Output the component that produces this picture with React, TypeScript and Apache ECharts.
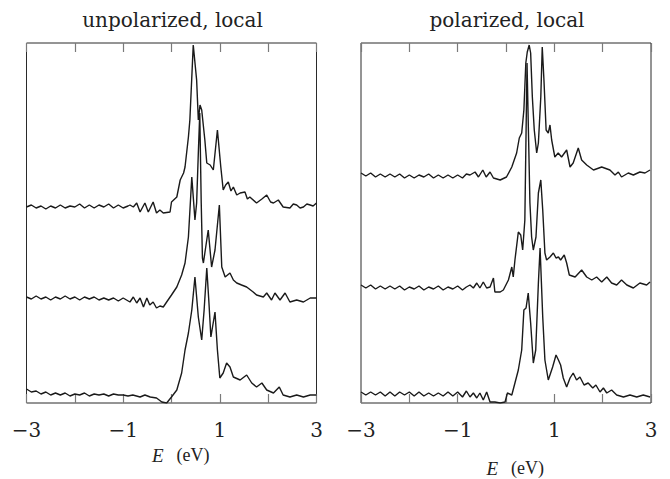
import React, { useEffect, useRef } from 'react';
import * as echarts from 'echarts';

const panelTitles = ['unpolarized, local', 'polarized, local'];
const axisLabelText = 'E';
const axisUnitText = '(eV)';
const tickLabelMap: Record<string, string> = { '-3': '−3', '-1': '−1', '1': '1', '3': '3' };

// [E (eV), intensity (arbitrary, offset curves)]
const unpolTop: number[][] = [
  [-3.0,196],[-2.9,198],[-2.8,195],[-2.7,197],[-2.6,194],[-2.5,197],[-2.4,195],[-2.3,198],[-2.2,195],[-2.1,197],[-2.0,196],[-1.9,199],[-1.8,195],[-1.7,198],[-1.6,195],[-1.5,198],[-1.4,196],[-1.3,199],[-1.2,195],[-1.1,198],[-1.0,195],[-0.9,197],[-0.86,198],[-0.79,196],[-0.72,200],[-0.65,191],[-0.55,200],[-0.48,191],[-0.38,201],[-0.31,190],[-0.24,193],[-0.17,190],[-0.03,191],[0.0,201],[0.11,206],[0.18,223],[0.25,230],[0.28,236],[0.35,266],[0.38,283],[0.45,358],[0.52,323],[0.555,283],[0.59,298],[0.625,293],[0.69,263],[0.73,240],[0.80,238],[0.865,233],[0.95,273],[1.02,236],[1.07,213],[1.12,218],[1.175,221],[1.23,212],[1.28,216],[1.35,208],[1.42,210],[1.52,211],[1.57,204],[1.62,206],[1.76,200],[1.87,204],[1.97,208],[2.05,201],[2.11,200],[2.21,203],[2.31,196],[2.45,195],[2.52,199],[2.59,198],[2.66,195],[2.73,196],[2.8,199],[2.87,198],[2.93,197],[3.0,200]
];
const unpolMid: number[][] = [
  [-3.0,106],[-2.9,104],[-2.8,107],[-2.7,104],[-2.6,106],[-2.5,103],[-2.4,106],[-2.3,104],[-2.2,107],[-2.1,104],[-2.0,106],[-1.9,103],[-1.8,106],[-1.7,104],[-1.6,106],[-1.5,103],[-1.4,105],[-1.3,103],[-1.2,105],[-1.1,102],[-1.0,105],[-0.93,103],[-0.86,101],[-0.79,106],[-0.72,100],[-0.65,105],[-0.58,96],[-0.51,105],[-0.45,98],[-0.38,101],[-0.31,95],[-0.24,97],[-0.17,96],[-0.10,101],[0.0,108],[0.11,116],[0.21,128],[0.28,140],[0.35,166],[0.42,226],[0.485,183],[0.52,200],[0.555,250],[0.585,290],[0.615,200],[0.64,145],[0.66,140],[0.69,150],[0.76,173],[0.83,136],[0.90,153],[0.99,198],[1.04,136],[1.11,126],[1.21,130],[1.28,123],[1.35,120],[1.45,118],[1.555,116],[1.69,111],[1.76,108],[1.90,106],[1.97,110],[2.07,103],[2.14,110],[2.245,103],[2.35,110],[2.45,101],[2.59,103],[2.73,101],[2.87,105],[3.0,105]
];
const unpolBot: number[][] = [
  [-3.0,14],[-2.9,11],[-2.8,12],[-2.7,9],[-2.6,11],[-2.5,8],[-2.4,10],[-2.3,8],[-2.2,10],[-2.1,7],[-2.0,9],[-1.9,8],[-1.8,10],[-1.7,7],[-1.6,9],[-1.5,8],[-1.4,9],[-1.3,7],[-1.2,9],[-1.1,8],[-1.0,8],[-0.9,7],[-0.8,8],[-0.65,6],[-0.55,8],[-0.44,6],[-0.31,5],[-0.20,1],[-0.10,0],[0.0,6],[0.11,13],[0.21,30],[0.28,53],[0.35,70],[0.42,93],[0.485,126],[0.555,86],[0.625,63],[0.675,93],[0.73,135],[0.775,100],[0.815,66],[0.90,91],[0.95,53],[1.0,25],[1.07,30],[1.14,40],[1.21,36],[1.28,26],[1.42,23],[1.555,28],[1.66,20],[1.76,16],[1.87,20],[1.97,13],[2.11,10],[2.23,16],[2.31,8],[2.45,6],[2.59,8],[2.73,6],[2.87,8],[3.0,8]
];
const polTop: number[][] = [
  [-3.0,230],[-2.9,227],[-2.8,230],[-2.7,226],[-2.6,229],[-2.5,226],[-2.4,229],[-2.3,226],[-2.2,229],[-2.1,225],[-2.0,228],[-1.9,225],[-1.8,228],[-1.7,226],[-1.6,229],[-1.5,225],[-1.4,228],[-1.3,225],[-1.2,228],[-1.1,225],[-1.0,228],[-0.9,225],[-0.82,229],[-0.745,228],[-0.64,231],[-0.57,226],[-0.48,233],[-0.41,226],[-0.33,231],[-0.26,225],[-0.12,223],[0.01,226],[0.12,236],[0.22,250],[0.275,265],[0.325,270],[0.37,293],[0.41,340],[0.44,351],[0.48,358],[0.51,350],[0.545,306],[0.585,273],[0.635,250],[0.67,260],[0.72,306],[0.75,356],[0.785,323],[0.83,273],[0.875,270],[0.91,278],[0.945,263],[1.01,246],[1.08,250],[1.15,246],[1.255,253],[1.325,236],[1.39,240],[1.495,255],[1.565,243],[1.67,238],[1.81,233],[1.98,236],[2.15,233],[2.255,228],[2.325,231],[2.39,226],[2.53,230],[2.635,228],[2.77,231],[2.875,230],[2.98,233]
];
const polMid: number[][] = [
  [-3.0,118],[-2.9,115],[-2.8,118],[-2.7,114],[-2.6,117],[-2.5,114],[-2.4,117],[-2.3,114],[-2.2,117],[-2.1,113],[-2.0,116],[-1.9,114],[-1.8,117],[-1.7,113],[-1.6,116],[-1.5,114],[-1.4,117],[-1.3,113],[-1.2,116],[-1.1,114],[-1.0,117],[-0.9,113],[-0.82,116],[-0.745,118],[-0.675,115],[-0.605,120],[-0.54,115],[-0.47,121],[-0.40,115],[-0.33,116],[-0.26,125],[-0.23,111],[-0.12,111],[-0.055,113],[0.05,123],[0.12,136],[0.15,126],[0.185,143],[0.255,171],[0.305,168],[0.345,153],[0.39,183],[0.435,340],[0.495,200],[0.53,166],[0.565,153],[0.62,166],[0.67,210],[0.72,223],[0.76,193],[0.805,150],[0.84,143],[0.91,146],[0.98,150],[1.035,145],[1.085,146],[1.13,143],[1.205,148],[1.255,140],[1.31,128],[1.43,126],[1.565,133],[1.67,126],[1.775,123],[1.875,126],[1.98,121],[2.085,126],[2.185,120],[2.29,118],[2.39,123],[2.5,118],[2.635,115],[2.77,120],[2.91,118],[2.98,121]
];
const polBot: number[][] = [
  [-3.0,11],[-2.9,8],[-2.8,11],[-2.7,8],[-2.6,11],[-2.5,7],[-2.4,11],[-2.3,7],[-2.2,11],[-2.1,8],[-2.0,11],[-1.9,7],[-1.8,11],[-1.7,7],[-1.6,10],[-1.5,7],[-1.4,10],[-1.3,7],[-1.2,11],[-1.1,7],[-1.0,11],[-0.9,6],[-0.82,12],[-0.745,6],[-0.675,10],[-0.605,5],[-0.54,10],[-0.47,3],[-0.40,11],[-0.33,1],[-0.23,1],[-0.12,0],[-0.02,1],[0.03,10],[0.12,8],[0.185,20],[0.255,33],[0.325,53],[0.37,93],[0.415,95],[0.46,110],[0.51,80],[0.565,40],[0.615,53],[0.67,120],[0.705,155],[0.76,86],[0.805,43],[0.875,23],[0.965,36],[1.035,48],[1.085,43],[1.13,38],[1.185,25],[1.255,16],[1.325,25],[1.39,30],[1.46,23],[1.53,26],[1.615,18],[1.70,20],[1.795,15],[1.86,18],[1.945,11],[2.015,15],[2.085,10],[2.185,13],[2.29,8],[2.43,6],[2.565,8],[2.705,6],[2.84,8],[2.98,6]
];

const panelCurves = [
  [unpolTop, unpolMid, unpolBot],
  [polTop, polMid, polBot],
];

const X_MIN = -3;
const X_MAX = 3;
const Y_MIN = 0;
const Y_MAX = 360;

export default function App() {
  const ref = useRef<HTMLDivElement>(null);
  useEffect(() => {
    document.body.style.margin = '0';
    if (!ref.current) return;
    const chart = echarts.init(ref.current, undefined, { renderer: 'svg' });
    const grids = [
      { left: 26.5, top: 43, width: 290, height: 360 },
      { left: 361, top: 43, width: 290, height: 360 },
    ];
    const tickStyle = { inside: true, length: 9, lineStyle: { color: '#7a7a7a', width: 1.2 } };
    const xAxes: any[] = [];
    const yAxes: any[] = [];
    grids.forEach((_, i) => {
      xAxes.push({
        type: 'value', gridIndex: i, min: X_MIN, max: X_MAX, interval: 1, position: 'bottom',
        axisLine: { show: false }, splitLine: { show: false }, axisTick: tickStyle,
        axisLabel: {
          formatter: (v: number) => tickLabelMap[String(v)] ?? '',
          fontFamily: 'DejaVu Serif', fontSize: 20, color: '#222', margin: 17,
          showMinLabel: true, showMaxLabel: true,
        },
      });
      xAxes.push({
        type: 'value', gridIndex: i, min: X_MIN, max: X_MAX, interval: 1, position: 'top',
        axisLine: { show: false }, splitLine: { show: false }, axisTick: tickStyle,
        axisLabel: { show: false },
      });
      yAxes.push({ type: 'value', gridIndex: i, min: Y_MIN, max: Y_MAX, show: false });
    });
    const series: any[] = [];
    panelCurves.forEach((curves, i) => {
      curves.forEach((d) => {
        series.push({
          type: 'line', xAxisIndex: i * 2, yAxisIndex: i, data: d,
          showSymbol: false, symbol: 'none', clip: true,
          lineStyle: { color: '#1a1a1a', width: 1.4 },
        });
      });
    });
    const centers = [171.5, 506];
    const labelYs = [455, 468];
    const graphic: any[] = [];
    panelTitles.forEach((t, i) => {
      graphic.push({
        type: 'text', x: centers[i] + 1, y: 20,
        style: { text: t, fontFamily: 'DejaVu Serif', fontSize: 20, fill: '#222', align: 'center', verticalAlign: 'middle' },
      });
      graphic.push({
        type: 'text', x: centers[i] - 8, y: labelYs[i],
        style: {
          text: axisLabelText, fontFamily: 'Liberation Serif', fontStyle: 'italic', fontSize: 19,
          fill: '#222', align: 'right', verticalAlign: 'middle',
        },
      });
      graphic.push({
        type: 'text', x: centers[i] + 5, y: labelYs[i],
        style: {
          text: axisUnitText, fontFamily: 'Liberation Serif', fontSize: 18,
          fill: '#222', align: 'left', verticalAlign: 'middle',
        },
      });
    });
    chart.setOption({
      animation: false,
      backgroundColor: '#fff',
      grid: grids.map((g) => ({ ...g, show: true, borderColor: '#2a2a2a', borderWidth: 1, backgroundColor: 'transparent' })),
      xAxis: xAxes,
      yAxis: yAxes,
      series,
      graphic,
    });
    return () => chart.dispose();
  }, []);
  return <div ref={ref} style={{ width: 670, height: 479 }} />;
}
